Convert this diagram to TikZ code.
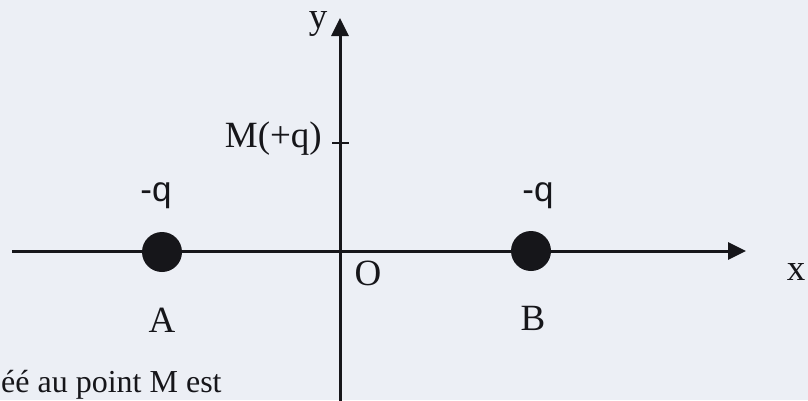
\documentclass[tikz,border=0pt]{standalone}
\usepackage{fontspec}
\setmainfont{Liberation Serif}
\newfontfamily\labsans{Liberation Sans}
\usetikzlibrary{arrows.meta}
\definecolor{paper}{RGB}{236,239,245}
\definecolor{ink}{RGB}{22,22,26}
\tikzset{
  axis/.style={draw=ink, line width=3pt, -{Triangle[length=18pt,width=17pt]}},
  charge/.style={circle, fill=ink, minimum size=40pt, inner sep=0pt},
  lab/.style={text=ink, font=\fontsize{37}{40}\selectfont, inner sep=0pt},
  qlab/.style={text=ink, font=\labsans\fontsize{35}{38}\selectfont, inner sep=0pt},
}
\begin{document}
\begin{tikzpicture}[x=1pt,y=-1pt]
\fill[paper] (0,0) rectangle (808,400);
\useasboundingbox (0,0) rectangle (808,400);
\clip (0,0) rectangle (808,400);
% axes
\coordinate (xs) at (12,251);
\coordinate (xe) at (746,251);
\coordinate (ys) at (340,402);
\coordinate (ye) at (340,18);
\draw[axis] (xs) -- (xe);
\draw[axis] (ys) -- (ye);
% tick for M
\coordinate (t1) at (332,143);
\coordinate (t2) at (349,143);
\draw[ink, line width=2pt] (t1) -- (t2);
% charges
\node[charge] (A) at (162,252) {};
\node[charge] (B) at (531,251) {};
% labels
\node[qlab] (qa) at (156,196) {-q};
\node[qlab] (qb) at (538,196) {-q};
\node[lab] (la) at (162,320) {A};
\node[lab] (lb) at (533,318) {B};
\node[lab] (lo) at (368,273) {O};
\node[lab] (lx) at (796,272) {x};
\node[lab] (ly) at (318,24) {y};
\node[lab, anchor=east] (lm) at (322,139) {M(+q)};
\node[lab, anchor=base west, font=\fontsize{32}{36}\selectfont] (txt) at (1,392) {éé au point M est};
\end{tikzpicture}
\end{document}
